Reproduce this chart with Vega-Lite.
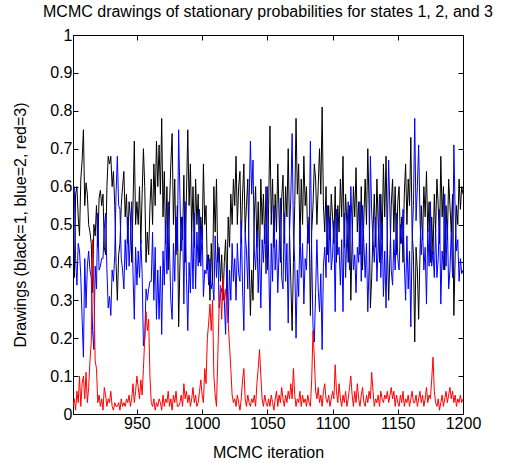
{
"$schema": "https://vega.github.io/schema/vega-lite/v6.json",
"width": 390, "height": 379,
"autosize": {"type": "none"},
"padding": {"left": 73, "top": 35, "right": 44, "bottom": 49},
"background": "#ffffff",
"config": {"font": "Liberation Sans", "view": {"stroke": "#000000", "strokeWidth": 1}},
"title": {"text": "MCMC drawings of stationary probabilities for states 1, 2, and 3", "fontSize": 16, "fontWeight": "normal", "color": "#000000", "offset": 7, "font": "Liberation Sans"},
"data": {"values": [
{"i":901,"k":0.40,"b":0.58,"r":0.02},{"i":902,"k":0.36,"b":0.60,"r":0.04},{"i":903,"k":0.58,"b":0.41,"r":0.01},{"i":904,"k":0.60,"b":0.34,"r":0.06},{"i":905,"k":0.52,"b":0.45,"r":0.03},
{"i":906,"k":0.47,"b":0.43,"r":0.10},{"i":907,"k":0.62,"b":0.36,"r":0.02},{"i":908,"k":0.67,"b":0.25,"r":0.08},{"i":909,"k":0.75,"b":0.15,"r":0.10},{"i":910,"k":0.55,"b":0.41,"r":0.04},
{"i":911,"k":0.61,"b":0.28,"r":0.11},{"i":912,"k":0.58,"b":0.39,"r":0.03},{"i":913,"k":0.50,"b":0.43,"r":0.07},{"i":914,"k":0.48,"b":0.38,"r":0.14},{"i":915,"k":0.45,"b":0.36,"r":0.19},
{"i":916,"k":0.32,"b":0.22,"r":0.46},{"i":917,"k":0.50,"b":0.17,"r":0.33},{"i":918,"k":0.47,"b":0.39,"r":0.14},{"i":919,"k":0.55,"b":0.33,"r":0.12},{"i":920,"k":0.44,"b":0.53,"r":0.03},
{"i":921,"k":0.57,"b":0.38,"r":0.05},{"i":922,"k":0.59,"b":0.39,"r":0.02},{"i":923,"k":0.55,"b":0.41,"r":0.04},{"i":924,"k":0.58,"b":0.41,"r":0.01},{"i":925,"k":0.44,"b":0.49,"r":0.07},
{"i":926,"k":0.42,"b":0.53,"r":0.05},{"i":927,"k":0.60,"b":0.38,"r":0.02},{"i":928,"k":0.68,"b":0.28,"r":0.04},{"i":929,"k":0.66,"b":0.31,"r":0.03},{"i":930,"k":0.68,"b":0.26,"r":0.06},
{"i":931,"k":0.60,"b":0.38,"r":0.02},{"i":932,"k":0.64,"b":0.35,"r":0.01},{"i":933,"k":0.55,"b":0.42,"r":0.03},{"i":934,"k":0.40,"b":0.58,"r":0.02},{"i":935,"k":0.30,"b":0.68,"r":0.02},
{"i":936,"k":0.42,"b":0.55,"r":0.03},{"i":937,"k":0.45,"b":0.54,"r":0.01},{"i":938,"k":0.55,"b":0.41,"r":0.04},{"i":939,"k":0.60,"b":0.38,"r":0.02},{"i":940,"k":0.64,"b":0.33,"r":0.03},
{"i":941,"k":0.52,"b":0.46,"r":0.02},{"i":942,"k":0.58,"b":0.38,"r":0.04},{"i":943,"k":0.45,"b":0.52,"r":0.03},{"i":944,"k":0.56,"b":0.39,"r":0.05},{"i":945,"k":0.52,"b":0.46,"r":0.02},
{"i":946,"k":0.40,"b":0.56,"r":0.04},{"i":947,"k":0.55,"b":0.37,"r":0.08},{"i":948,"k":0.72,"b":0.25,"r":0.03},{"i":949,"k":0.50,"b":0.44,"r":0.06},{"i":950,"k":0.56,"b":0.34,"r":0.10},
{"i":951,"k":0.50,"b":0.43,"r":0.07},{"i":952,"k":0.60,"b":0.36,"r":0.04},{"i":953,"k":0.45,"b":0.46,"r":0.09},{"i":954,"k":0.58,"b":0.37,"r":0.05},{"i":955,"k":0.70,"b":0.18,"r":0.12},
{"i":956,"k":0.60,"b":0.20,"r":0.20},{"i":957,"k":0.40,"b":0.33,"r":0.27},{"i":958,"k":0.48,"b":0.30,"r":0.22},{"i":959,"k":0.42,"b":0.33,"r":0.25},{"i":960,"k":0.55,"b":0.35,"r":0.10},
{"i":961,"k":0.62,"b":0.35,"r":0.03},{"i":962,"k":0.50,"b":0.48,"r":0.02},{"i":963,"k":0.66,"b":0.30,"r":0.04},{"i":964,"k":0.55,"b":0.44,"r":0.01},{"i":965,"k":0.72,"b":0.25,"r":0.03},
{"i":966,"k":0.60,"b":0.38,"r":0.02},{"i":967,"k":0.71,"b":0.25,"r":0.04},{"i":968,"k":0.58,"b":0.39,"r":0.03},{"i":969,"k":0.78,"b":0.21,"r":0.01},{"i":970,"k":0.52,"b":0.43,"r":0.05},
{"i":971,"k":0.64,"b":0.34,"r":0.02},{"i":972,"k":0.45,"b":0.51,"r":0.04},{"i":973,"k":0.60,"b":0.37,"r":0.03},{"i":974,"k":0.38,"b":0.56,"r":0.06},{"i":975,"k":0.55,"b":0.43,"r":0.02},
{"i":976,"k":0.66,"b":0.30,"r":0.04},{"i":977,"k":0.74,"b":0.25,"r":0.01},{"i":978,"k":0.50,"b":0.45,"r":0.05},{"i":979,"k":0.62,"b":0.35,"r":0.03},{"i":980,"k":0.42,"b":0.52,"r":0.06},
{"i":981,"k":0.55,"b":0.43,"r":0.02},{"i":982,"k":0.23,"b":0.75,"r":0.02},{"i":983,"k":0.40,"b":0.57,"r":0.03},{"i":984,"k":0.52,"b":0.43,"r":0.05},{"i":985,"k":0.46,"b":0.52,"r":0.02},
{"i":986,"k":0.63,"b":0.29,"r":0.08},{"i":987,"k":0.40,"b":0.56,"r":0.04},{"i":988,"k":0.58,"b":0.36,"r":0.06},{"i":989,"k":0.75,"b":0.22,"r":0.03},{"i":990,"k":0.55,"b":0.40,"r":0.05},
{"i":991,"k":0.66,"b":0.32,"r":0.02},{"i":992,"k":0.48,"b":0.48,"r":0.04},{"i":993,"k":0.60,"b":0.33,"r":0.07},{"i":994,"k":0.44,"b":0.53,"r":0.03},{"i":995,"k":0.62,"b":0.33,"r":0.05},
{"i":996,"k":0.50,"b":0.48,"r":0.02},{"i":997,"k":0.58,"b":0.39,"r":0.03},{"i":998,"k":0.40,"b":0.54,"r":0.06},{"i":999,"k":0.52,"b":0.39,"r":0.09},{"i":1000,"k":0.46,"b":0.49,"r":0.05},
{"i":1001,"k":0.66,"b":0.31,"r":0.03},{"i":1002,"k":0.50,"b":0.38,"r":0.12},{"i":1003,"k":0.55,"b":0.37,"r":0.08},{"i":1004,"k":0.38,"b":0.42,"r":0.20},{"i":1005,"k":0.42,"b":0.34,"r":0.24},
{"i":1006,"k":0.30,"b":0.41,"r":0.29},{"i":1007,"k":0.45,"b":0.33,"r":0.22},{"i":1008,"k":0.35,"b":0.35,"r":0.30},{"i":1009,"k":0.60,"b":0.30,"r":0.10},{"i":1010,"k":0.48,"b":0.47,"r":0.05},
{"i":1011,"k":0.62,"b":0.36,"r":0.02},{"i":1012,"k":0.40,"b":0.45,"r":0.15},{"i":1013,"k":0.44,"b":0.28,"r":0.28},{"i":1014,"k":0.35,"b":0.31,"r":0.34},{"i":1015,"k":0.42,"b":0.33,"r":0.25},
{"i":1016,"k":0.30,"b":0.34,"r":0.36},{"i":1017,"k":0.40,"b":0.30,"r":0.30},{"i":1018,"k":0.46,"b":0.21,"r":0.33},{"i":1019,"k":0.33,"b":0.39,"r":0.28},{"i":1020,"k":0.52,"b":0.24,"r":0.24},
{"i":1021,"k":0.44,"b":0.38,"r":0.18},{"i":1022,"k":0.58,"b":0.30,"r":0.12},{"i":1023,"k":0.50,"b":0.45,"r":0.05},{"i":1024,"k":0.62,"b":0.35,"r":0.03},{"i":1025,"k":0.55,"b":0.41,"r":0.04},
{"i":1026,"k":0.68,"b":0.30,"r":0.02},{"i":1027,"k":0.50,"b":0.45,"r":0.05},{"i":1028,"k":0.60,"b":0.37,"r":0.03},{"i":1029,"k":0.64,"b":0.35,"r":0.01},{"i":1030,"k":0.45,"b":0.51,"r":0.04},
{"i":1031,"k":0.58,"b":0.33,"r":0.09},{"i":1032,"k":0.66,"b":0.22,"r":0.12},{"i":1033,"k":0.48,"b":0.48,"r":0.04},{"i":1034,"k":0.55,"b":0.43,"r":0.02},{"i":1035,"k":0.62,"b":0.33,"r":0.05},
{"i":1036,"k":0.42,"b":0.55,"r":0.03},{"i":1037,"k":0.26,"b":0.72,"r":0.02},{"i":1038,"k":0.38,"b":0.58,"r":0.04},{"i":1039,"k":0.30,"b":0.67,"r":0.03},{"i":1040,"k":0.52,"b":0.43,"r":0.05},
{"i":1041,"k":0.60,"b":0.38,"r":0.02},{"i":1042,"k":0.44,"b":0.48,"r":0.08},{"i":1043,"k":0.56,"b":0.32,"r":0.12},{"i":1044,"k":0.40,"b":0.43,"r":0.17},{"i":1045,"k":0.62,"b":0.28,"r":0.10},
{"i":1046,"k":0.50,"b":0.46,"r":0.04},{"i":1047,"k":0.58,"b":0.40,"r":0.02},{"i":1048,"k":0.45,"b":0.50,"r":0.05},{"i":1049,"k":0.60,"b":0.37,"r":0.03},{"i":1050,"k":0.38,"b":0.60,"r":0.02},
{"i":1051,"k":0.55,"b":0.41,"r":0.04},{"i":1052,"k":0.76,"b":0.22,"r":0.02},{"i":1053,"k":0.50,"b":0.45,"r":0.05},{"i":1054,"k":0.62,"b":0.35,"r":0.03},{"i":1055,"k":0.44,"b":0.55,"r":0.01},
{"i":1056,"k":0.58,"b":0.38,"r":0.04},{"i":1057,"k":0.48,"b":0.46,"r":0.06},{"i":1058,"k":0.66,"b":0.32,"r":0.02},{"i":1059,"k":0.52,"b":0.43,"r":0.05},{"i":1060,"k":0.40,"b":0.57,"r":0.03},
{"i":1061,"k":0.57,"b":0.36,"r":0.07},{"i":1062,"k":0.63,"b":0.33,"r":0.04},{"i":1063,"k":0.45,"b":0.53,"r":0.02},{"i":1064,"k":0.60,"b":0.35,"r":0.05},{"i":1065,"k":0.52,"b":0.45,"r":0.03},
{"i":1066,"k":0.70,"b":0.24,"r":0.06},{"i":1067,"k":0.48,"b":0.48,"r":0.04},{"i":1068,"k":0.35,"b":0.57,"r":0.08},{"i":1069,"k":0.22,"b":0.74,"r":0.04},{"i":1070,"k":0.40,"b":0.48,"r":0.12},
{"i":1071,"k":0.55,"b":0.40,"r":0.05},{"i":1072,"k":0.78,"b":0.20,"r":0.02},{"i":1073,"k":0.58,"b":0.38,"r":0.04},{"i":1074,"k":0.66,"b":0.31,"r":0.03},{"i":1075,"k":0.45,"b":0.49,"r":0.06},
{"i":1076,"k":0.62,"b":0.36,"r":0.02},{"i":1077,"k":0.50,"b":0.45,"r":0.05},{"i":1078,"k":0.68,"b":0.29,"r":0.03},{"i":1079,"k":0.55,"b":0.41,"r":0.04},{"i":1080,"k":0.60,"b":0.38,"r":0.02},
{"i":1081,"k":0.45,"b":0.50,"r":0.05},{"i":1082,"k":0.52,"b":0.45,"r":0.03},{"i":1083,"k":0.26,"b":0.72,"r":0.02},{"i":1084,"k":0.48,"b":0.43,"r":0.09},{"i":1085,"k":0.55,"b":0.23,"r":0.22},
{"i":1086,"k":0.66,"b":0.19,"r":0.15},{"i":1087,"k":0.62,"b":0.32,"r":0.06},{"i":1088,"k":0.50,"b":0.46,"r":0.04},{"i":1089,"k":0.60,"b":0.33,"r":0.07},{"i":1090,"k":0.70,"b":0.27,"r":0.03},
{"i":1091,"k":0.58,"b":0.37,"r":0.05},{"i":1092,"k":0.81,"b":0.17,"r":0.02},{"i":1093,"k":0.55,"b":0.39,"r":0.06},{"i":1094,"k":0.48,"b":0.44,"r":0.08},{"i":1095,"k":0.60,"b":0.36,"r":0.04},
{"i":1096,"k":0.42,"b":0.55,"r":0.03},{"i":1097,"k":0.55,"b":0.40,"r":0.05},{"i":1098,"k":0.46,"b":0.52,"r":0.02},{"i":1099,"k":0.58,"b":0.38,"r":0.04},{"i":1100,"k":0.52,"b":0.42,"r":0.06},
{"i":1101,"k":0.45,"b":0.51,"r":0.04},{"i":1102,"k":0.60,"b":0.27,"r":0.13},{"i":1103,"k":0.40,"b":0.54,"r":0.06},{"i":1104,"k":0.55,"b":0.42,"r":0.03},{"i":1105,"k":0.48,"b":0.44,"r":0.08},
{"i":1106,"k":0.62,"b":0.34,"r":0.04},{"i":1107,"k":0.52,"b":0.46,"r":0.02},{"i":1108,"k":0.68,"b":0.27,"r":0.05},{"i":1109,"k":0.44,"b":0.53,"r":0.03},{"i":1110,"k":0.58,"b":0.36,"r":0.06},
{"i":1111,"k":0.50,"b":0.48,"r":0.02},{"i":1112,"k":0.40,"b":0.56,"r":0.04},{"i":1113,"k":0.55,"b":0.38,"r":0.07},{"i":1114,"k":0.30,"b":0.60,"r":0.10},{"i":1115,"k":0.46,"b":0.49,"r":0.05},
{"i":1116,"k":0.60,"b":0.38,"r":0.02},{"i":1117,"k":0.52,"b":0.42,"r":0.06},{"i":1118,"k":0.65,"b":0.32,"r":0.03},{"i":1119,"k":0.48,"b":0.44,"r":0.08},{"i":1120,"k":0.56,"b":0.40,"r":0.04},
{"i":1121,"k":0.42,"b":0.56,"r":0.02},{"i":1122,"k":0.60,"b":0.35,"r":0.05},{"i":1123,"k":0.38,"b":0.55,"r":0.07},{"i":1124,"k":0.52,"b":0.45,"r":0.03},{"i":1125,"k":0.62,"b":0.36,"r":0.02},
{"i":1126,"k":0.50,"b":0.45,"r":0.05},{"i":1127,"k":0.70,"b":0.27,"r":0.03},{"i":1128,"k":0.55,"b":0.39,"r":0.06},{"i":1129,"k":0.28,"b":0.68,"r":0.04},{"i":1130,"k":0.36,"b":0.53,"r":0.11},
{"i":1131,"k":0.48,"b":0.46,"r":0.06},{"i":1132,"k":0.58,"b":0.40,"r":0.02},{"i":1133,"k":0.44,"b":0.52,"r":0.04},{"i":1134,"k":0.62,"b":0.35,"r":0.03},{"i":1135,"k":0.50,"b":0.45,"r":0.05},
{"i":1136,"k":0.40,"b":0.58,"r":0.02},{"i":1137,"k":0.58,"b":0.36,"r":0.06},{"i":1138,"k":0.46,"b":0.50,"r":0.04},{"i":1139,"k":0.66,"b":0.31,"r":0.03},{"i":1140,"k":0.52,"b":0.43,"r":0.05},
{"i":1141,"k":0.68,"b":0.28,"r":0.04},{"i":1142,"k":0.45,"b":0.49,"r":0.06},{"i":1143,"k":0.30,"b":0.67,"r":0.03},{"i":1144,"k":0.42,"b":0.53,"r":0.05},{"i":1145,"k":0.55,"b":0.38,"r":0.07},
{"i":1146,"k":0.62,"b":0.34,"r":0.04},{"i":1147,"k":0.48,"b":0.46,"r":0.06},{"i":1148,"k":0.60,"b":0.38,"r":0.02},{"i":1149,"k":0.42,"b":0.53,"r":0.05},{"i":1150,"k":0.56,"b":0.41,"r":0.03},
{"i":1151,"k":0.60,"b":0.38,"r":0.02},{"i":1152,"k":0.45,"b":0.50,"r":0.05},{"i":1153,"k":0.52,"b":0.45,"r":0.03},{"i":1154,"k":0.40,"b":0.54,"r":0.06},{"i":1155,"k":0.58,"b":0.40,"r":0.02},
{"i":1156,"k":0.66,"b":0.30,"r":0.04},{"i":1157,"k":0.50,"b":0.47,"r":0.03},{"i":1158,"k":0.62,"b":0.33,"r":0.05},{"i":1159,"k":0.55,"b":0.43,"r":0.02},{"i":1160,"k":0.73,"b":0.23,"r":0.04},
{"i":1161,"k":0.48,"b":0.46,"r":0.06},{"i":1162,"k":0.42,"b":0.55,"r":0.03},{"i":1163,"k":0.19,"b":0.78,"r":0.03},{"i":1164,"k":0.44,"b":0.51,"r":0.05},{"i":1165,"k":0.38,"b":0.60,"r":0.02},
{"i":1166,"k":0.25,"b":0.71,"r":0.04},{"i":1167,"k":0.42,"b":0.52,"r":0.06},{"i":1168,"k":0.55,"b":0.42,"r":0.03},{"i":1169,"k":0.46,"b":0.49,"r":0.05},{"i":1170,"k":0.60,"b":0.38,"r":0.02},
{"i":1171,"k":0.52,"b":0.44,"r":0.04},{"i":1172,"k":0.64,"b":0.29,"r":0.07},{"i":1173,"k":0.48,"b":0.49,"r":0.03},{"i":1174,"k":0.56,"b":0.39,"r":0.05},{"i":1175,"k":0.40,"b":0.56,"r":0.04},
{"i":1176,"k":0.52,"b":0.39,"r":0.09},{"i":1177,"k":0.42,"b":0.43,"r":0.15},{"i":1178,"k":0.58,"b":0.36,"r":0.06},{"i":1179,"k":0.48,"b":0.49,"r":0.03},{"i":1180,"k":0.62,"b":0.36,"r":0.02},
{"i":1181,"k":0.55,"b":0.41,"r":0.04},{"i":1182,"k":0.45,"b":0.54,"r":0.01},{"i":1183,"k":0.68,"b":0.29,"r":0.03},{"i":1184,"k":0.52,"b":0.43,"r":0.05},{"i":1185,"k":0.60,"b":0.38,"r":0.02},
{"i":1186,"k":0.38,"b":0.58,"r":0.04},{"i":1187,"k":0.55,"b":0.39,"r":0.06},{"i":1188,"k":0.46,"b":0.51,"r":0.03},{"i":1189,"k":0.62,"b":0.33,"r":0.05},{"i":1190,"k":0.55,"b":0.38,"r":0.07},
{"i":1191,"k":0.48,"b":0.48,"r":0.04},{"i":1192,"k":0.58,"b":0.36,"r":0.06},{"i":1193,"k":0.26,"b":0.71,"r":0.03},{"i":1194,"k":0.42,"b":0.53,"r":0.05},{"i":1195,"k":0.55,"b":0.43,"r":0.02},
{"i":1196,"k":0.50,"b":0.46,"r":0.04},{"i":1197,"k":0.62,"b":0.35,"r":0.03},{"i":1198,"k":0.54,"b":0.41,"r":0.05},{"i":1199,"k":0.60,"b":0.37,"r":0.03},{"i":1200,"k":0.58,"b":0.38,"r":0.04}
]},
"layer": [
 {"mark": {"type": "line", "color": "#000000", "strokeWidth": 1, "clip": true},
  "encoding": {
   "x": {"field": "i", "type": "quantitative", "scale": {"domain": [901, 1200], "nice": false, "zero": false},
         "axis": {"orient": "bottom", "values": [950, 1000, 1050, 1100, 1150, 1200], "format": "d", "labelFlush": false, "labelOverlap": false, "title": "MCMC iteration", "grid": false, "domain": false, "tickSize": -5, "tickColor": "#000000", "labelColor": "#000000", "labelFontSize": 16, "labelPadding": 6, "titleFontSize": 16, "titleFontWeight": "normal", "titleColor": "#000000", "titlePadding": 13}},
   "y": {"field": "k", "type": "quantitative", "scale": {"domain": [0, 1], "nice": false, "zero": false},
         "axis": {"orient": "left", "values": [0, 0.1, 0.2, 0.3, 0.4, 0.5, 0.6, 0.7, 0.8, 0.9, 1], "format": ".1~f", "labelFlush": false, "labelOverlap": false, "title": "Drawings (black=1, blue=2, red=3)", "grid": false, "domain": false, "tickSize": -5, "tickColor": "#000000", "labelColor": "#000000", "labelFontSize": 16, "labelPadding": 6, "titleFontSize": 16, "titleFontWeight": "normal", "titleColor": "#000000", "titlePadding": 21}}
  }},
 {"mark": {"type": "line", "color": "#0000ff", "strokeWidth": 1, "clip": true},
  "encoding": {
   "x": {"field": "i", "type": "quantitative", "scale": {"domain": [901, 1200], "nice": false, "zero": false},
         "axis": {"orient": "top", "values": [950, 1000, 1050, 1100, 1150, 1200], "labels": false, "title": null, "grid": false, "domain": false, "tickSize": -5, "tickColor": "#000000"}},
   "y": {"field": "b", "type": "quantitative", "scale": {"domain": [0, 1], "nice": false, "zero": false},
         "axis": {"orient": "right", "values": [0, 0.1, 0.2, 0.3, 0.4, 0.5, 0.6, 0.7, 0.8, 0.9, 1], "labels": false, "title": null, "grid": false, "domain": false, "tickSize": -5, "tickColor": "#000000"}}
  }},
 {"mark": {"type": "line", "color": "#ff0000", "strokeWidth": 1, "clip": true},
  "encoding": {
   "x": {"field": "i", "type": "quantitative", "scale": {"domain": [901, 1200], "nice": false, "zero": false}, "axis": null},
   "y": {"field": "r", "type": "quantitative", "scale": {"domain": [0, 1], "nice": false, "zero": false}, "axis": null}
  }}
],
"resolve": {"axis": {"x": "independent", "y": "independent"}}
}
